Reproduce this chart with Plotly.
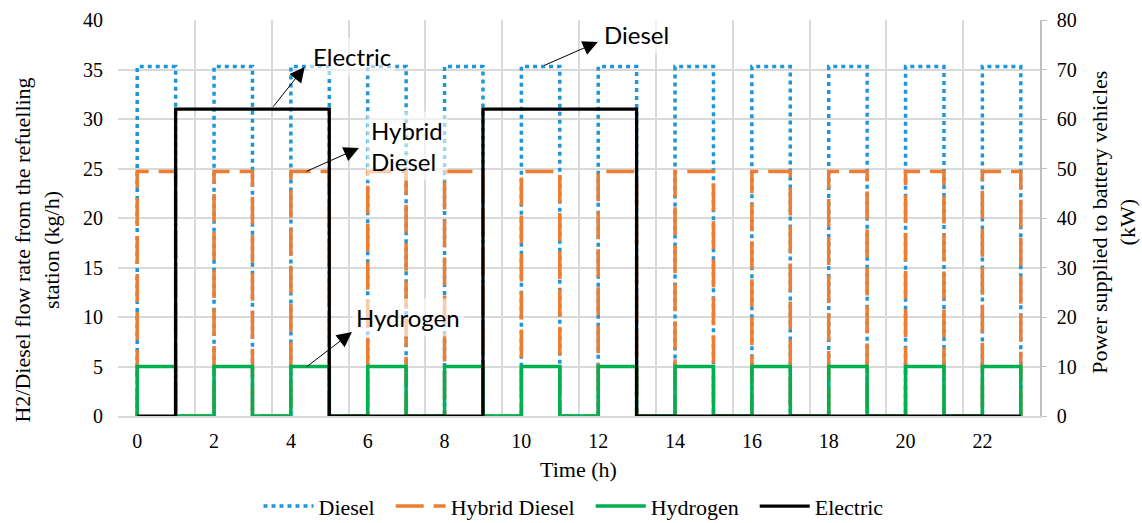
import plotly.graph_objects as go

# Start of each hourly interval (h)
hour_start = [0, 1, 2, 3, 4, 5, 6, 7, 8, 9, 10, 11, 12, 13, 14, 15, 16, 17, 18, 19, 20, 21, 22]
day_end = 23

# Flow rates drawn from the refuelling station during each hour (kg/h)
diesel = [35.3, 0, 35.3, 0, 35.3, 0, 35.3, 0, 35.3, 0, 35.3, 0,
          35.3, 0, 35.3, 0, 35.3, 0, 35.3, 0, 35.3, 0, 35.3]
hybrid_diesel = [24.7, 0, 24.7, 0, 24.7, 0, 24.7, 0, 24.7, 0, 24.7, 0,
                 24.7, 0, 24.7, 0, 24.7, 0, 24.7, 0, 24.7, 0, 24.7]
hydrogen = [5, 0, 5, 0, 5, 0, 5, 0, 5, 0, 5, 0,
            5, 0, 5, 0, 5, 0, 5, 0, 5, 0, 5]

# Power supplied to battery vehicles during each hour (kW)
electric = [0, 62, 62, 62, 62, 0, 0, 0, 0, 62, 62, 62,
            62, 0, 0, 0, 0, 0, 0, 0, 0, 0, 0]

x_ticks = [0, 2, 4, 6, 8, 10, 12, 14, 16, 18, 20, 22]
y_left_ticks = [0, 5, 10, 15, 20, 25, 30, 35, 40]
y_right_ticks = [0, 10, 20, 30, 40, 50, 60, 70, 80]

SERIF = "Liberation Serif"
SANS = "Lato"
GRID = "#d9d9d9"


def step_xy(values):
    """Profile that rises from zero at the start and returns to zero at the end."""
    return [0] + hour_start + [day_end], [0] + values + [0]


fig = go.Figure()

series = [
    ("Diesel", diesel, dict(color="#1E96DA", width=3.5, dash="4px,4px"), "y"),
    ("Hybrid Diesel", hybrid_diesel, dict(color="#ED7D31", width=3.5, dash="28px,10px"), "y"),
    ("Hydrogen", hydrogen, dict(color="#00B050", width=3.5), "y"),
    ("Electric", electric, dict(color="#000000", width=3.2), "y2"),
]
for name, vals, line, yax in series:
    xs, ys = step_xy(vals)
    fig.add_trace(go.Scatter(x=xs, y=ys, name=name + "  ", mode="lines",
                             line=dict(shape="hv", **line), yaxis=yax))

# Labels with arrows pointing at each profile
labels = [
    # text, text x, text y, xanchor, arrow head (x, y), arrow tail (x, y)
    ("Electric", 5.58, 36.3, "center", (4.36, 35.25), (3.51, 31.1)),
    ("Hybrid<br>Diesel", 5.95, 27.3, "left", (5.77, 27.07), (4.37, 24.65)),
    ("Hydrogen", 7.06, 9.9, "center", (5.59, 8.48), (4.37, 4.85)),
    ("Diesel", 13.0, 38.5, "center", (11.99, 37.78), (10.56, 35.35)),
]
for text, tx, ty, xa, head, tail in labels:
    fig.add_annotation(x=tx, y=ty, xref="x", yref="y", text=text, showarrow=False,
                       xanchor=xa, yanchor="middle", align="left",
                       font=dict(family=SANS, size=24, color="#000000"),
                       bgcolor="rgba(255,255,255,0.6)", borderpad=4)
    fig.add_annotation(x=head[0], y=head[1], ax=tail[0], ay=tail[1],
                       xref="x", yref="y", axref="x", ayref="y", text="",
                       showarrow=True, arrowhead=2, arrowsize=3, arrowwidth=1,
                       arrowcolor="#000000", standoff=0, startstandoff=0)

# Axis titles
fig.add_annotation(x=-0.088, y=0.42, xref="paper", yref="paper", textangle=-90,
                   text="H2/Diesel flow rate from the refuelling<br>station (kg/h)",
                   showarrow=False, xanchor="center", yanchor="middle",
                   font=dict(family=SERIF, size=22, color="#000000"))
fig.add_annotation(x=1.08, y=0.49, xref="paper", yref="paper", textangle=-90,
                   text="Power supplied to battery vehicles<br>(kW)",
                   showarrow=False, xanchor="center", yanchor="middle",
                   font=dict(family=SERIF, size=22, color="#000000"))
fig.add_annotation(x=0.499, y=-0.135, xref="paper", yref="paper", text="Time (h)",
                   showarrow=False, xanchor="center", yanchor="middle",
                   font=dict(family=SERIF, size=22, color="#000000"))

tick_font = dict(family=SERIF, size=20, color="#000000")

fig.update_layout(
    width=1142, height=523,
    margin=dict(l=118, r=102, t=20, b=107, autoexpand=False),
    paper_bgcolor="white", plot_bgcolor="white",
    font=dict(family=SERIF, size=20, color="#000000"),
    showlegend=True,
    legend=dict(orientation="h", x=0.5, xanchor="center",
                yref="paper", y=-0.228, yanchor="middle",
                font=dict(family=SERIF, size=22, color="#000000"), itemwidth=50,
                traceorder="normal", bgcolor="rgba(0,0,0,0)"),
    xaxis=dict(range=[-0.5, 23.5], tickvals=x_ticks, showgrid=False, zeroline=False,
               showline=True, linecolor=GRID, linewidth=1.5, ticks="",
               ticklabelstandoff=6, tickfont=tick_font, automargin=False,
               minor=dict(tickvals=[-0.5, 1.5, 3.5, 5.5, 7.5, 9.5, 11.5, 13.5, 15.5,
                                    17.5, 19.5, 21.5, 23.5],
                          showgrid=True, gridcolor=GRID, gridwidth=1.5, ticks="")),
    yaxis=dict(range=[0, 40], tickvals=y_left_ticks, showgrid=True, gridcolor=GRID,
               gridwidth=1.5, zeroline=False, ticks="", ticklabelstandoff=14,
               tickfont=tick_font, automargin=False),
    yaxis2=dict(range=[0, 80], tickvals=y_right_ticks, overlaying="y", side="right",
                showgrid=False, zeroline=False, showline=True, linecolor="#bfbfbf",
                linewidth=1.5, ticks="outside", ticklen=5, tickcolor="#bfbfbf",
                ticklabelstandoff=6, tickfont=tick_font, automargin=False),
)

fig.write_html("out.html")
